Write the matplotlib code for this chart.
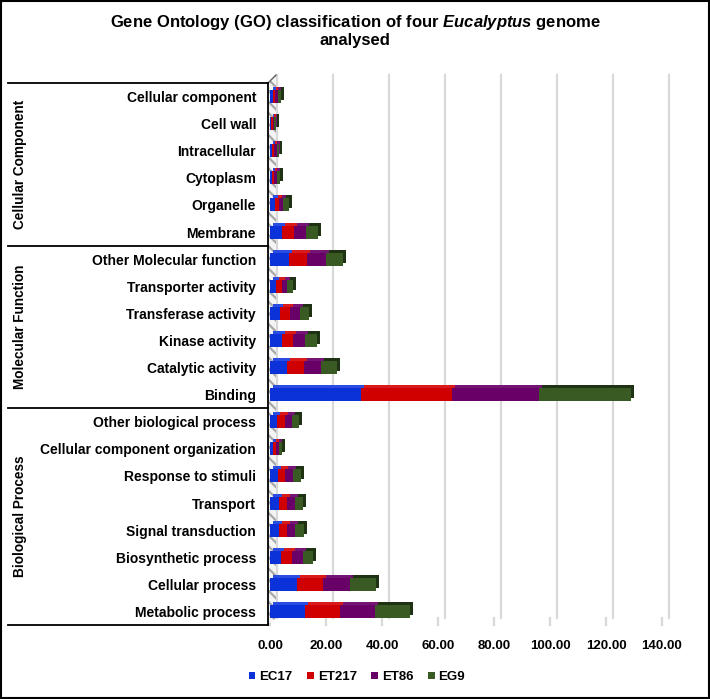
import matplotlib
matplotlib.use("Agg")
import matplotlib.pyplot as plt
import numpy as np
from matplotlib.lines import Line2D
from matplotlib.patches import Polygon, Rectangle, Patch
from matplotlib.transforms import ScaledTranslation, blended_transform_factory

plt.rcParams['font.family'] = ['Liberation Sans', 'DejaVu Sans']
plt.rcParams['mathtext.fontset'] = 'custom'
plt.rcParams['mathtext.it'] = 'Liberation Sans:italic:bold'
plt.rcParams['mathtext.rm'] = 'Liberation Sans:bold'
plt.rcParams['hatch.linewidth'] = 1.6

# categories, top to bottom
categories = ["Cellular component", "Cell wall", "Intracellular", "Cytoplasm",
              "Organelle", "Membrane",
              "Other Molecular function", "Transporter activity", "Transferase activity",
              "Kinase activity", "Catalytic activity", "Binding",
              "Other biological process", "Cellular component organization",
              "Response to stimuli", "Transport", "Signal transduction",
              "Biosynthetic process", "Cellular process", "Metabolic process"]

groups = ["Cellular Component", "Molecular Function", "Biological Process"]
group_sizes = [6, 6, 8]

series_names = ["EC17", "ET217", "ET86", "EG9"]
ec17 = [0.9, 0.5, 0.8, 0.8, 1.8, 4.3, 6.8, 2.1, 3.6, 4.2, 6.2, 32.5,
        2.6, 1.2, 2.9, 3.1, 3.1, 4.0, 9.6, 12.6]
et217 = [0.9, 0.5, 0.8, 0.8, 1.5, 4.4, 6.5, 2.1, 3.5, 4.1, 5.8, 32.6,
         2.8, 1.0, 2.6, 3.0, 3.0, 3.9, 9.4, 12.5]
et86 = [0.9, 0.5, 0.8, 0.9, 1.5, 4.2, 6.6, 2.0, 3.5, 4.2, 6.1, 30.9,
        2.5, 1.0, 2.7, 2.9, 2.9, 3.8, 9.6, 12.5]
eg9 = [1.1, 0.5, 0.8, 0.9, 1.9, 4.4, 6.3, 2.1, 3.4, 4.4, 5.9, 33.0,
       2.6, 1.1, 2.8, 2.9, 3.0, 3.8, 9.4, 12.5]
series = [ec17, et217, et86, eg9]

xticks = [0, 20, 40, 60, 80, 100, 120, 140]

colors = ["#0a32d8", "#d00000", "#680068", "#3a5a24"]
# top/side face colours (last series gets the dark end face)
faces = ["#2a4ce0", "#d81a1a", "#741474", "#1f3314"]

W, H = 710, 699
fig = plt.figure(figsize=(W / 100, H / 100), dpi=100)


def fx(px):
    return px / W


def fy(py):
    return 1 - py / H


ax_left, ax_right = 270, 676
ax_top, ax_bot = 83, 625
ax = fig.add_axes([fx(ax_left), fy(ax_bot), fx(ax_right - ax_left), (ax_bot - ax_top) / H])
ax.set_xlim(0, 145)
ax.set_ylim(len(categories) - 0.5, -0.5)

y = np.arange(len(categories))
depth = ScaledTranslation(3 / 100, 3 / 100, fig.dpi_scale_trans)

# vertical grid lines on the back wall, with slanted floor segment
back = ScaledTranslation(7 / 100, 0, fig.dpi_scale_trans)
bt = blended_transform_factory(ax.transData, ax.transAxes)
top_a = 1 + 8 / (ax_bot - ax_top)
floor_a = 7 / (ax_bot - ax_top)
for t in xticks:
    ax.plot([t, t], [floor_a, top_a], transform=bt + back, color="#d9d9d9",
            lw=1.6, zorder=0, clip_on=False)
    ax.plot([t, t], [floor_a, 0], transform=bt, color="#d9d9d9", lw=1.6, zorder=0,
            clip_on=False)

# hatched side wall (behind the bars)
wall = Polygon([(fx(268), fy(ax_top)), (fx(276), fy(ax_top - 8)),
                (fx(276), fy(ax_bot - 7)), (fx(268), fy(ax_bot))],
               closed=True, transform=fig.transFigure, facecolor="#f4f4f4",
               edgecolor="#a8a8a8", hatch="\\\\\\", lw=0, zorder=1, clip_on=False)
ax.add_patch(wall)

left = np.zeros(len(categories))
for vals, c, f in zip(series, colors, faces):
    vals = np.array(vals)
    ax.barh(y, vals, left=left, height=0.48, color=f, transform=ax.transData + depth,
            zorder=2)
    ax.barh(y, vals, left=left, height=0.48, color=c, zorder=3)
    left = left + vals

ax.set_xticks(xticks)
ax.set_xticklabels([f"{t:.2f}" for t in xticks], fontsize=9.5, fontweight="bold")
for lab in ax.get_xticklabels():
    lab.set_transform(lab.get_transform() + ScaledTranslation(-3 / 100, 0, fig.dpi_scale_trans))
ax.set_yticks(y)
ax.set_yticklabels(categories, fontsize=10, fontweight="bold")
ax.tick_params(axis="x", length=0, pad=11)
ax.tick_params(axis="y", length=0, pad=10)
for s in ax.spines.values():
    s.set_visible(False)

fig.add_artist(Line2D([fx(268), fx(276)], [fy(ax_top), fy(ax_top - 8)],
                      transform=fig.transFigure, color="#606060", lw=1))
fig.add_artist(Line2D([fx(268), fx(268)], [fy(ax_top), fy(ax_bot)],
                      transform=fig.transFigure, color="black", lw=1.3))

# group bracket lines and labels
row_h = (ax_bot - ax_top) / len(categories)
start = 0
for g, n in zip(groups, group_sizes):
    y0 = ax_top + start * row_h
    y1 = ax_top + (start + n) * row_h
    fig.add_artist(Line2D([fx(8), fx(268)], [fy(y0), fy(y0)], transform=fig.transFigure,
                          color="black", lw=1.3))
    fig.text(fx(20), fy((y0 + y1) / 2), g, rotation=90, ha="center", va="center",
             fontsize=9.8, fontweight="bold")
    start += n
fig.add_artist(Line2D([fx(8), fx(268)], [fy(ax_bot), fy(ax_bot)], transform=fig.transFigure,
                      color="black", lw=1.3))

# title
fig.text(0.5, fy(22), r"Gene Ontology (GO) classification of four $\mathit{Eucalyptus}$ genome",
         ha="center", va="center", fontsize=12, fontweight="bold")
fig.text(0.5, fy(41), "analysed", ha="center", va="center", fontsize=12, fontweight="bold")

# legend
handles = [Patch(facecolor=c, edgecolor="none") for c in colors]
leg = fig.legend(handles, series_names, loc="center", bbox_to_anchor=(fx(357), fy(677)),
                 ncol=4, frameon=False, handlelength=0.5, handleheight=0.5,
                 handletextpad=0.3, columnspacing=1.1,
                 prop={"weight": "bold", "size": 9.5})

# outer border
fig.add_artist(Rectangle((0.001, 0.001), 0.997, 0.997, transform=fig.transFigure,
                         fill=False, edgecolor="black", lw=1.5))

fig.savefig("out.png", dpi=100)
